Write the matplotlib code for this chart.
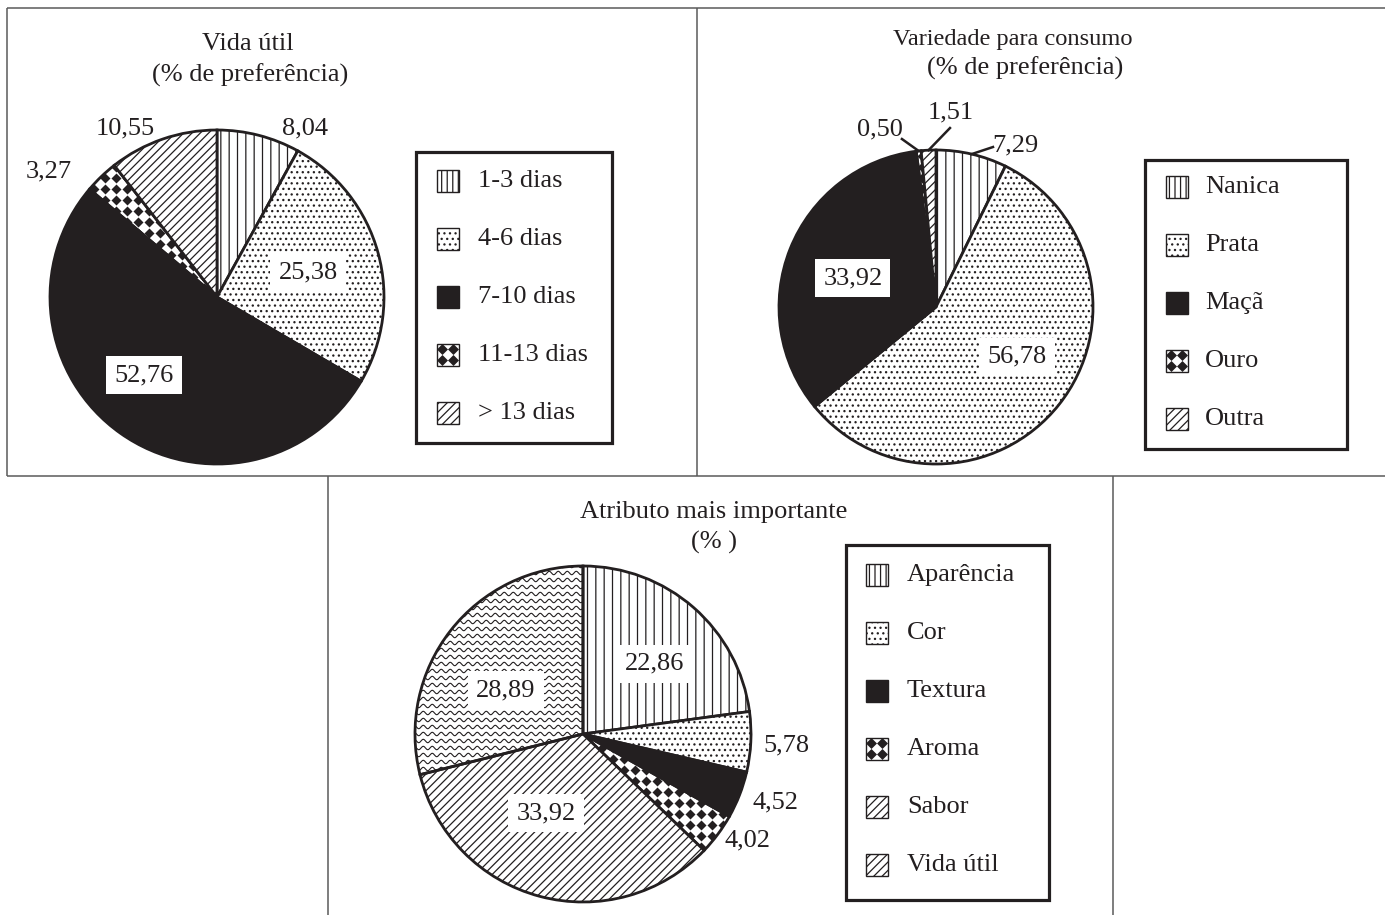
import numpy as np
import matplotlib
matplotlib.use('Agg')
import matplotlib.pyplot as plt
from matplotlib.patches import Rectangle, Polygon

plt.rcParams['font.family'] = ['Liberation Serif', 'DejaVu Serif']
plt.rcParams['hatch.linewidth'] = 0.9
plt.rcParams['hatch.color'] = '#231f20'

# ---------------- data ----------------
vida_labels = ['1-3 dias', '4-6 dias', '7-10 dias', '11-13 dias', '> 13 dias']
vida_values = [8.04, 25.38, 52.76, 3.27, 10.55]

var_labels = ['Nanica', 'Prata', 'Maçã', 'Ouro', 'Outra']
var_values = [7.29, 56.78, 33.92, 0.50, 1.51]

attr_labels = ['Aparência', 'Cor', 'Textura', 'Aroma', 'Sabor', 'Vida útil']
attr_values = [22.86, 5.78, 4.52, 4.02, 33.92, 28.89]

# fill style of each slice (pie) and of each legend key
vida_styles = ['vline', 'dots', 'black', 'diamond', 'diag']
var_styles = ['vline', 'dots', 'black', 'diamond', 'diag']
attr_styles = ['vline', 'dots', 'black', 'diamond', 'diag', 'wave']
attr_key_styles = ['vline', 'dots', 'black', 'diamond', 'diag', 'diag']

W, H = 1385, 915
INK = '#231f20'
FS = 19
GRID = '#5a5a5a'

fig = plt.figure(figsize=(W / 100, H / 100), dpi=100)

# background axes in pixel coords (frames, titles, legends)
bg = fig.add_axes([0, 0, 1, 1])
bg.set_xlim(0, W)
bg.set_ylim(H, 0)
bg.axis('off')


def fmt(v):
    return f"{v:.2f}".replace('.', ',')


# ---- panel frames ----
for xs, ys in [((7, W), (8, 8)), ((7, W), (476, 476)), ((7, 7), (8, 476)),
               ((697, 697), (8, 476)), ((328, 328), (476, H)), ((1113, 1113), (476, H))]:
    bg.plot(xs, ys, color=GRID, lw=1.1, solid_capstyle='butt')

# ---- titles ----
bg.text(248, 44, 'Vida útil', ha='center', va='center', fontsize=FS, color=INK)
bg.text(250, 75, '(% de preferência)', ha='center', va='center', fontsize=FS, color=INK)
bg.text(1013, 40, 'Variedade para consumo', ha='center', va='center', fontsize=17.6, color=INK)
bg.text(1025, 68, '(% de preferência)', ha='center', va='center', fontsize=FS, color=INK)
bg.text(714, 512, 'Atributo mais importante', ha='center', va='center', fontsize=FS, color=INK)
bg.text(714, 542, '(% )', ha='center', va='center', fontsize=FS, color=INK)


# ---- pattern helpers ----
def diamond_fill(ax, wedge, rpx):
    step = 11.0 / rpx
    g = np.arange(-1.0, 1.0 + step, step)
    gx, gy = np.meshgrid(g, g)
    sc = ax.scatter(gx.ravel(), gy.ravel(), marker='D', s=26, color=INK,
                    linewidths=0, zorder=0.5)
    sc.set_clip_path(wedge)


def wave_fill(ax, wedge, rpx):
    xx = np.linspace(-1, 1, 1200)
    wl, amp, gap = 9.0 / rpx, 1.7 / rpx, 7.0 / rpx
    for y0 in np.arange(-1.0, 1.0 + gap, gap):
        ln, = ax.plot(xx, y0 + amp * np.sin(2 * np.pi * xx / wl), color=INK,
                      lw=0.8, zorder=0.5)
        ln.set_clip_path(wedge)


def style_wedge(ax, wedge, style, rpx):
    if style == 'vline':
        wedge.set_hatch('||')
    elif style == 'dots':
        wedge.set_hatch('...')
    elif style == 'black':
        wedge.set_facecolor(INK)
    elif style == 'diag':
        wedge.set_hatch('////')
    elif style == 'diamond':
        wedge.set_facecolor('none')
        diamond_fill(ax, wedge, rpx)
    elif style == 'wave':
        wedge.set_facecolor('none')
        wave_fill(ax, wedge, rpx)


def draw_pie(cx, cy, rpx, values, styles):
    ax = fig.add_axes([(cx - rpx) / W, 1 - (cy + rpx) / H, 2 * rpx / W, 2 * rpx / H])
    wedges, _ = ax.pie(values, startangle=90, counterclock=False, radius=1,
                       colors=['white'] * len(values),
                       wedgeprops=dict(edgecolor=INK, linewidth=2.0))
    for w, st in zip(wedges, styles):
        style_wedge(ax, w, st, rpx)
    ax.set_xlim(-1, 1)
    ax.set_ylim(-1, 1)
    ax.axis('off')
    return ax


def label(ax, pos, v, boxed=False):
    kw = dict(ha='center', va='center', fontsize=FS, color=INK)
    if boxed:
        kw['bbox'] = dict(boxstyle='square,pad=0.3', fc='white', ec='none')
    ax.text(pos[0], pos[1], fmt(v), **kw)


def draw_key(x, yc, style, size=22):
    y = yc - size / 2
    if style == 'black':
        bg.add_patch(Rectangle((x, y), size, size, fc=INK, ec=INK, lw=1))
    elif style == 'diamond':
        bg.add_patch(Rectangle((x, y), size, size, fc='white', ec=INK, lw=1))
        h = size / 4
        for dx in (h, 3 * h):
            for dy in (h, 3 * h):
                px, py = x + dx, y + dy
                bg.add_patch(Polygon([(px - h, py), (px, py - h), (px + h, py), (px, py + h)],
                                     closed=True, fc=INK, ec='none'))
    else:
        hatch = {'vline': '|||', 'dots': '...', 'diag': '////'}[style]
        bg.add_patch(Rectangle((x, y), size, size, fc='white', ec=INK, lw=1, hatch=hatch))


def draw_legend(box, first_y, key_x, text_x, labels, styles, row=58):
    x0, y0, x1, y1 = box
    bg.add_patch(Rectangle((x0, y0), x1 - x0, y1 - y0, fill=False, ec=INK, lw=2.3))
    for i, (lab, st) in enumerate(zip(labels, styles)):
        yc = first_y + i * row
        draw_key(key_x, yc, st)
        bg.text(text_x, yc, lab, ha='left', va='center', fontsize=FS, color=INK)


# ---------------- Vida útil ----------------
ax1 = draw_pie(217, 297, 167, vida_values, vida_styles)
pos1 = [(0.527, 1.012), (0.545, 0.144), (-0.437, -0.467), (-1.006, 0.749), (-0.551, 1.012)]
boxed1 = [False, True, True, False, False]
for p, v, b in zip(pos1, vida_values, boxed1):
    label(ax1, p, v, b)
draw_legend((416, 152, 612, 443), 181, 437, 478, vida_labels, vida_styles)

# ---------------- Variedade ----------------
ax2 = draw_pie(936, 307, 157, var_values, var_styles)
pos2 = [(0.503, 1.032), (0.516, -0.318), (-0.529, 0.185), (-0.357, 1.134), (0.096, 1.242)]
boxed2 = [False, True, True, False, False]
for p, v, b in zip(pos2, var_values, boxed2):
    label(ax2, p, v, b)
# leader lines for the thin slices
leaders2 = {0: (0.363, 1.019), 3: (-0.217, 1.07), 4: (0.089, 1.14)}
cum = np.cumsum([0] + var_values)
for i, end in leaders2.items():
    mid = 90 - 3.6 * (cum[i] + var_values[i] / 2)
    sx, sy = np.cos(np.radians(mid)), np.sin(np.radians(mid))
    ax2.plot([sx, end[0]], [sy, end[1]], color=INK, lw=1.8, clip_on=False)
draw_legend((1145, 160, 1347, 449), 187, 1166, 1205, var_labels, var_styles)

# ---------------- Atributo ----------------
ax3 = draw_pie(583, 734, 168, attr_values, attr_styles)
pos3 = [(0.423, 0.417), (1.208, -0.071), (1.143, -0.405), (0.982, -0.631),
        (-0.22, -0.47), (-0.458, 0.262)]
boxed3 = [True, False, False, False, True, True]
for p, v, b in zip(pos3, attr_values, boxed3):
    label(ax3, p, v, b)
draw_legend((846, 545, 1049, 900), 575, 866, 907, attr_labels, attr_key_styles)

fig.savefig('out.png', dpi=100, facecolor='white')
